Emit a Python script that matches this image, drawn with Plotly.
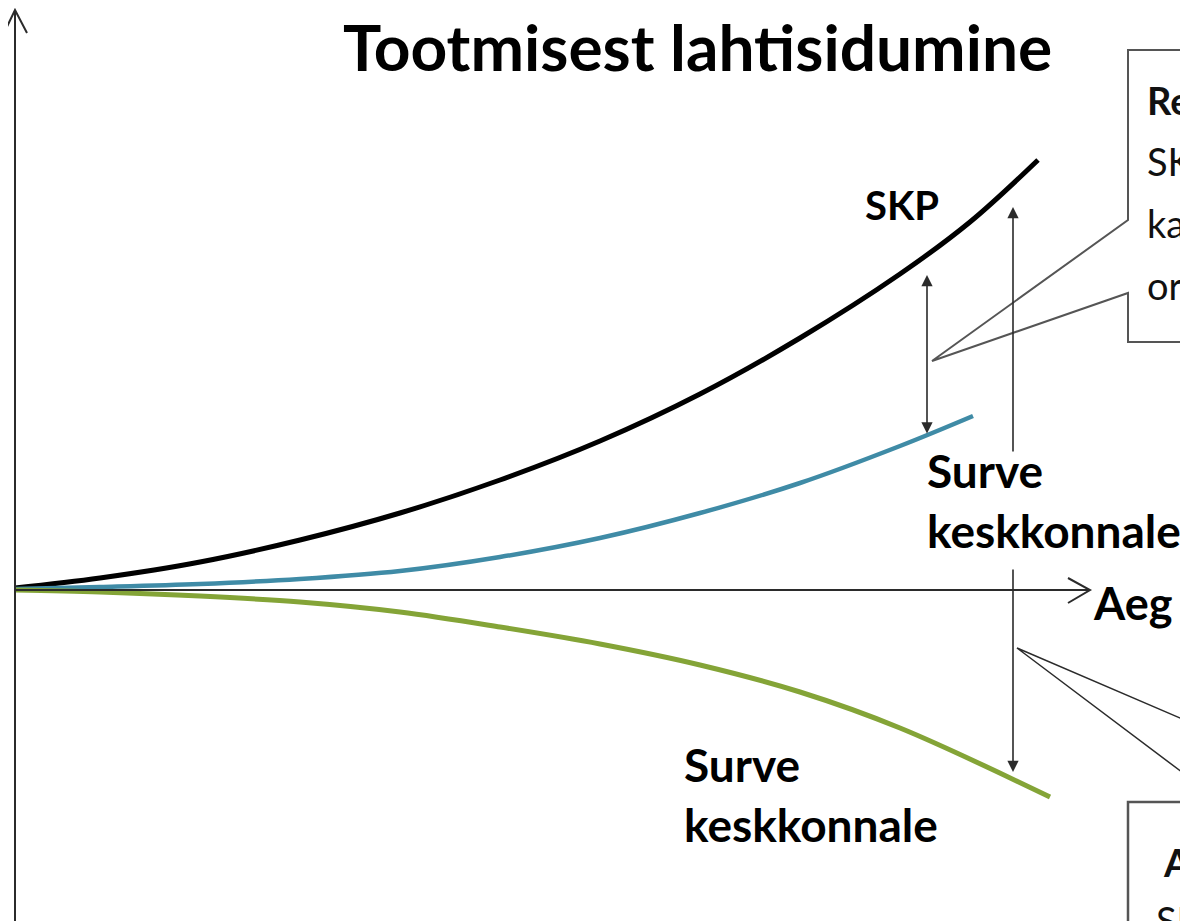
import plotly.graph_objects as go

# ---------------- data ----------------
title_text = "Tootmisest lahtisidumine"
axis_label = "Aeg"
label_skp = "SKP"
label_pressure = "Surve<br>keskkonnale"

# SKP (GDP) curve
time_skp = [0.00, 0.85, 1.85, 2.85, 3.85, 4.85, 5.85, 6.85, 7.85, 8.85, 9.55, 10.23]
val_skp = [0.02, 0.12, 0.28, 0.50, 0.77, 1.10, 1.49, 1.96, 2.52, 3.16, 3.68, 4.30]

# pressure on environment, relative decoupling (blue)
time_rel = [0.00, 0.85, 1.85, 2.85, 3.85, 4.85, 5.85, 6.85, 7.85, 8.85, 9.58]
val_rel = [0.01, 0.03, 0.06, 0.11, 0.19, 0.33, 0.52, 0.77, 1.07, 1.44, 1.74]

# pressure on environment, absolute decoupling (green)
time_abs = [0.00, 0.85, 1.85, 2.85, 3.85, 4.85, 5.85, 6.85, 7.85, 8.85, 10.35]
val_abs = [0.00, -0.02, -0.06, -0.12, -0.22, -0.37, -0.54, -0.75, -1.02, -1.38, -2.07]

# callout box text fragments (cut by the picture edge)
box1_lines = ["<b>Re</b>", "SK", "ka", "or"]
box2_lines = ["<b>A</b>", "SK"]

# ---------------- style ----------------
FONT = "Lato"
C_SKP = "#000000"
C_REL = "#3f8ba6"
C_ABS = "#84a437"
C_AX = "#2b2b2b"
C_BOX = "#555555"

fig = go.Figure()
fig.add_trace(go.Scatter(x=time_skp, y=val_skp, mode="lines",
                         line=dict(color=C_SKP, width=5, shape="spline", smoothing=1.0),
                         hoverinfo="skip"))
fig.add_trace(go.Scatter(x=time_rel, y=val_rel, mode="lines",
                         line=dict(color=C_REL, width=4.5, shape="spline", smoothing=1.0),
                         hoverinfo="skip"))
fig.add_trace(go.Scatter(x=time_abs, y=val_abs, mode="lines",
                         line=dict(color=C_ABS, width=5, shape="spline", smoothing=1.0),
                         hoverinfo="skip"))

shapes = []
# y axis with open arrowhead
shapes.append(dict(type="line", x0=0, x1=0, y0=-3.5, y1=5.80, line=dict(color=C_AX, width=2)))
shapes.append(dict(type="path", path="M -0.11,5.57 L 0,5.80 L 0.12,5.57",
                   line=dict(color=C_AX, width=2)))
# x axis with open arrowhead
shapes.append(dict(type="line", x0=0, x1=10.73, y0=0, y1=0, line=dict(color=C_AX, width=2)))
shapes.append(dict(type="path", path="M 10.53,0.12 L 10.75,0 L 10.53,-0.13",
                   line=dict(color=C_AX, width=2)))
# upper callout box with pointer
shapes.append(dict(type="path",
                   path="M 12.0,5.40 L 11.13,5.40 L 11.13,3.70 L 9.17,2.29 L 11.13,2.97 L 11.13,2.48 L 12.0,2.48",
                   line=dict(color=C_BOX, width=2), fillcolor="rgba(0,0,0,0)"))
# lower callout box
shapes.append(dict(type="path", path="M 12.0,-2.12 L 11.13,-2.12 L 11.13,-3.6",
                   line=dict(color=C_BOX, width=2.5)))
# lower pointer lines
shapes.append(dict(type="path", path="M 12.0,-1.43 L 10.02,-0.58 L 12.0,-2.07",
                   line=dict(color=C_AX, width=1.5)))

annotations = []
# title
annotations.append(dict(x=6.82, y=5.44, xref="x", yref="y", text="<b>%s</b>" % title_text,
                        showarrow=False, font=dict(family=FONT, size=64, color="#000"),
                        xanchor="center", yanchor="middle"))
annotations.append(dict(x=8.87, y=3.85, xref="x", yref="y", text="<b>%s</b>" % label_skp,
                        showarrow=False, font=dict(family=FONT, size=40, color="#000"),
                        xanchor="center", yanchor="middle"))
annotations.append(dict(x=9.10, y=0.90, xref="x", yref="y", text="<b>%s</b>" % label_pressure,
                        showarrow=False, font=dict(family=FONT, size=46, color="#000"),
                        xanchor="left", yanchor="middle", align="left"))
annotations.append(dict(x=6.67, y=-2.04, xref="x", yref="y", text="<b>%s</b>" % label_pressure,
                        showarrow=False, font=dict(family=FONT, size=46, color="#000"),
                        xanchor="left", yanchor="middle", align="left"))
annotations.append(dict(x=10.76, y=-0.13, xref="x", yref="y", text="<b>%s</b>" % axis_label,
                        showarrow=False, font=dict(family=FONT, size=45, color="#000"),
                        xanchor="left", yanchor="middle"))
for txt, yv in zip(box1_lines, [4.90, 4.29, 3.67, 3.05]):
    annotations.append(dict(x=11.30, y=yv, xref="x", yref="y", text=txt, showarrow=False,
                            font=dict(family=FONT, size=38, color="#111"),
                            xanchor="left", yanchor="middle"))
for txt, xv, yv in zip(box2_lines, [11.46, 11.39], [-2.72, -3.30]):
    annotations.append(dict(x=xv, y=yv, xref="x", yref="y", text=txt, showarrow=False,
                            font=dict(family=FONT, size=38, color="#111"),
                            xanchor="left", yanchor="middle"))

# arrows
arrow_style = dict(xref="x", yref="y", axref="x", ayref="y", text="", showarrow=True,
                   arrowhead=2, arrowsize=1.4, arrowwidth=1.6, arrowcolor=C_AX)
annotations.append(dict(x=9.12, y=3.15, ax=9.12, ay=1.55, arrowside="end+start", **arrow_style))
annotations.append(dict(x=9.98, y=3.83, ax=9.98, ay=1.37, arrowside="end", **arrow_style))
annotations.append(dict(x=9.98, y=-1.82, ax=9.98, ay=0.22, arrowside="end", **arrow_style))

# the page body keeps an 8px margin, so the figure is 8px smaller than the window
fig.update_layout(
    width=1180, height=913,
    margin=dict(l=0, r=0, t=0, b=0, autoexpand=False),
    paper_bgcolor="white", plot_bgcolor="white",
    showlegend=False,
    shapes=shapes, annotations=annotations,
    xaxis=dict(range=[-0.07, 11.73], visible=False, fixedrange=True),
    yaxis=dict(range=[-3.31, 5.82], visible=False, fixedrange=True),
    font=dict(family=FONT),
)

fig.write_html("out.html", config={"displayModeBar": False})
